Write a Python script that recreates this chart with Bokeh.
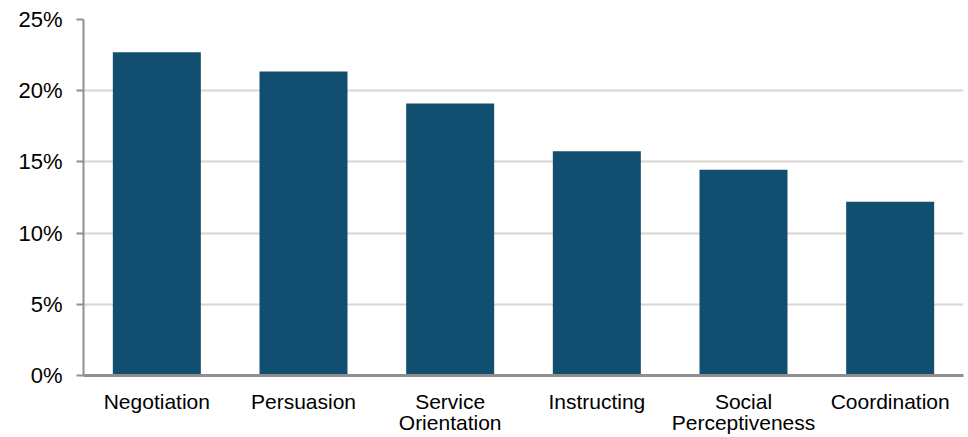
from bokeh.plotting import figure
from bokeh.models import Range1d, FixedTicker, PrintfTickFormatter
from bokeh.embed import file_html
from bokeh.resources import INLINE

categories = ["Negotiation", "Persuasion", "Service\nOrientation", "Instructing",
              "Social\nPerceptiveness", "Coordination"]
values = [22.7, 21.35, 19.1, 15.75, 14.45, 12.2]
y_ticks = [0, 5, 10, 15, 20, 25]

p = figure(x_range=categories, width=968, height=437, output_backend="svg",
           toolbar_location=None, min_border_left=83, min_border_right=5,
           min_border_top=19, min_border_bottom=60)
p.y_range = Range1d(0, 25)

p.vbar(x=categories, top=values, width=0.6, color="#124e6f", line_color=None)

p.outline_line_color = None
p.xgrid.grid_line_color = None
p.ygrid.grid_line_color = "#d9d6d0"
p.ygrid.grid_line_width = 2
p.yaxis.ticker = FixedTicker(ticks=y_ticks)
p.yaxis.formatter = PrintfTickFormatter(format="%d%%")

p.yaxis.axis_line_color = "#8f8f8f"
p.yaxis.axis_line_width = 2
p.yaxis.major_tick_line_color = "#8f8f8f"
p.yaxis.major_tick_line_width = 2
p.yaxis.major_tick_out = 7
p.yaxis.major_tick_in = 0
p.yaxis.minor_tick_line_color = None
p.yaxis.major_label_standoff = 14
p.yaxis.major_label_text_font = "Liberation Sans"
p.yaxis.major_label_text_font_size = "22px"
p.yaxis.major_label_text_color = "#000000"

p.xaxis.axis_line_color = "#8f8f8f"
p.xaxis.axis_line_width = 3
p.xaxis.major_tick_line_color = None
p.xaxis.major_tick_out = 0
p.xaxis.major_tick_in = 0
p.xaxis.major_label_standoff = 14
p.xaxis.major_label_text_font = "Liberation Sans"
p.xaxis.major_label_text_font_size = "21px"
p.xaxis.major_label_text_line_height = 0.95
p.xaxis.major_label_text_color = "#000000"

open("out.html", "w").write(file_html(p, INLINE))
